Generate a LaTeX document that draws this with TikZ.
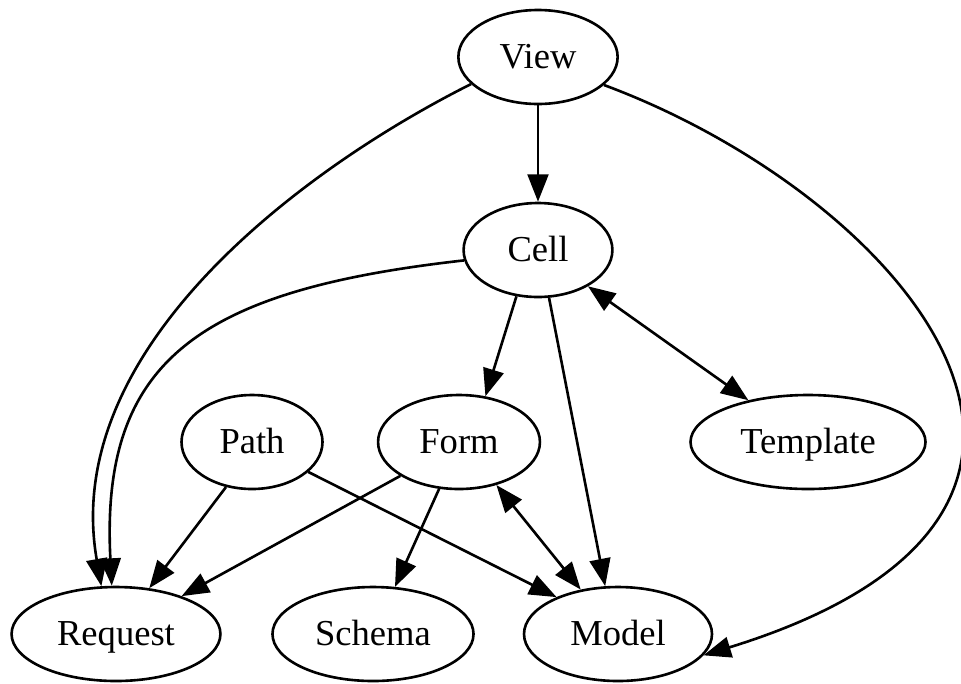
\documentclass[tikz,border=0pt]{standalone}
\usepackage{fontspec}
\setmainfont{Liberation Serif}
\usetikzlibrary{shapes.geometric,arrows.meta}
\begin{document}
\begin{tikzpicture}[x=0.383pt, y=-0.383pt, line width=1pt,
    >={Triangle[length=10.5pt,width=8pt]},
    ell/.style={ellipse, draw, minimum height=36pt, inner sep=0pt,
      text height=10pt, text depth=1pt, font=\fontsize{14}{16}\selectfont}]
    \useasboundingbox (0,0) rectangle (961,683);
    \node[ell, minimum width=61pt] (view) at (538,57) {View};
    \node[ell, minimum width=57pt] (cell) at (538,250) {Cell};
    \node[ell, minimum width=54pt] (path) at (252,442) {Path};
    \node[ell, minimum width=62pt] (form) at (459,442) {Form};
    \node[ell, minimum width=90pt] (tmpl) at (808,442) {Template};
    \node[ell, minimum width=80pt] (req) at (116,634) {Request};
    \node[ell, minimum width=77pt] (schema) at (373,634) {Schema};
    \node[ell, minimum width=72pt] (model) at (618,634) {Model};
    \draw[->] (view) -- (cell);
    \draw[->] (view.202) .. controls (300,170) and (60,350) .. (req.107);
    \draw[->] (view.337) .. controls (900,195) and (1175,510) .. (model.346);
    \draw[->] (cell.188) .. controls (200,290) and (100,360) .. (req.95);
    \draw[->] (cell.245) -- (form.60);
    \draw[->] (cell.283) -- (model.105);
    \draw[<->] (cell.324) -- (tmpl.145);
    \draw[->] (path.240) -- (req.54);
    \draw[->] (path.332) -- (model.149);
    \draw[->] (form.210) -- (req.30);
    \draw[->] (form.247) -- (schema.65);
    \draw[<->] (form.311) -- (model.130);
\end{tikzpicture}
\end{document}
